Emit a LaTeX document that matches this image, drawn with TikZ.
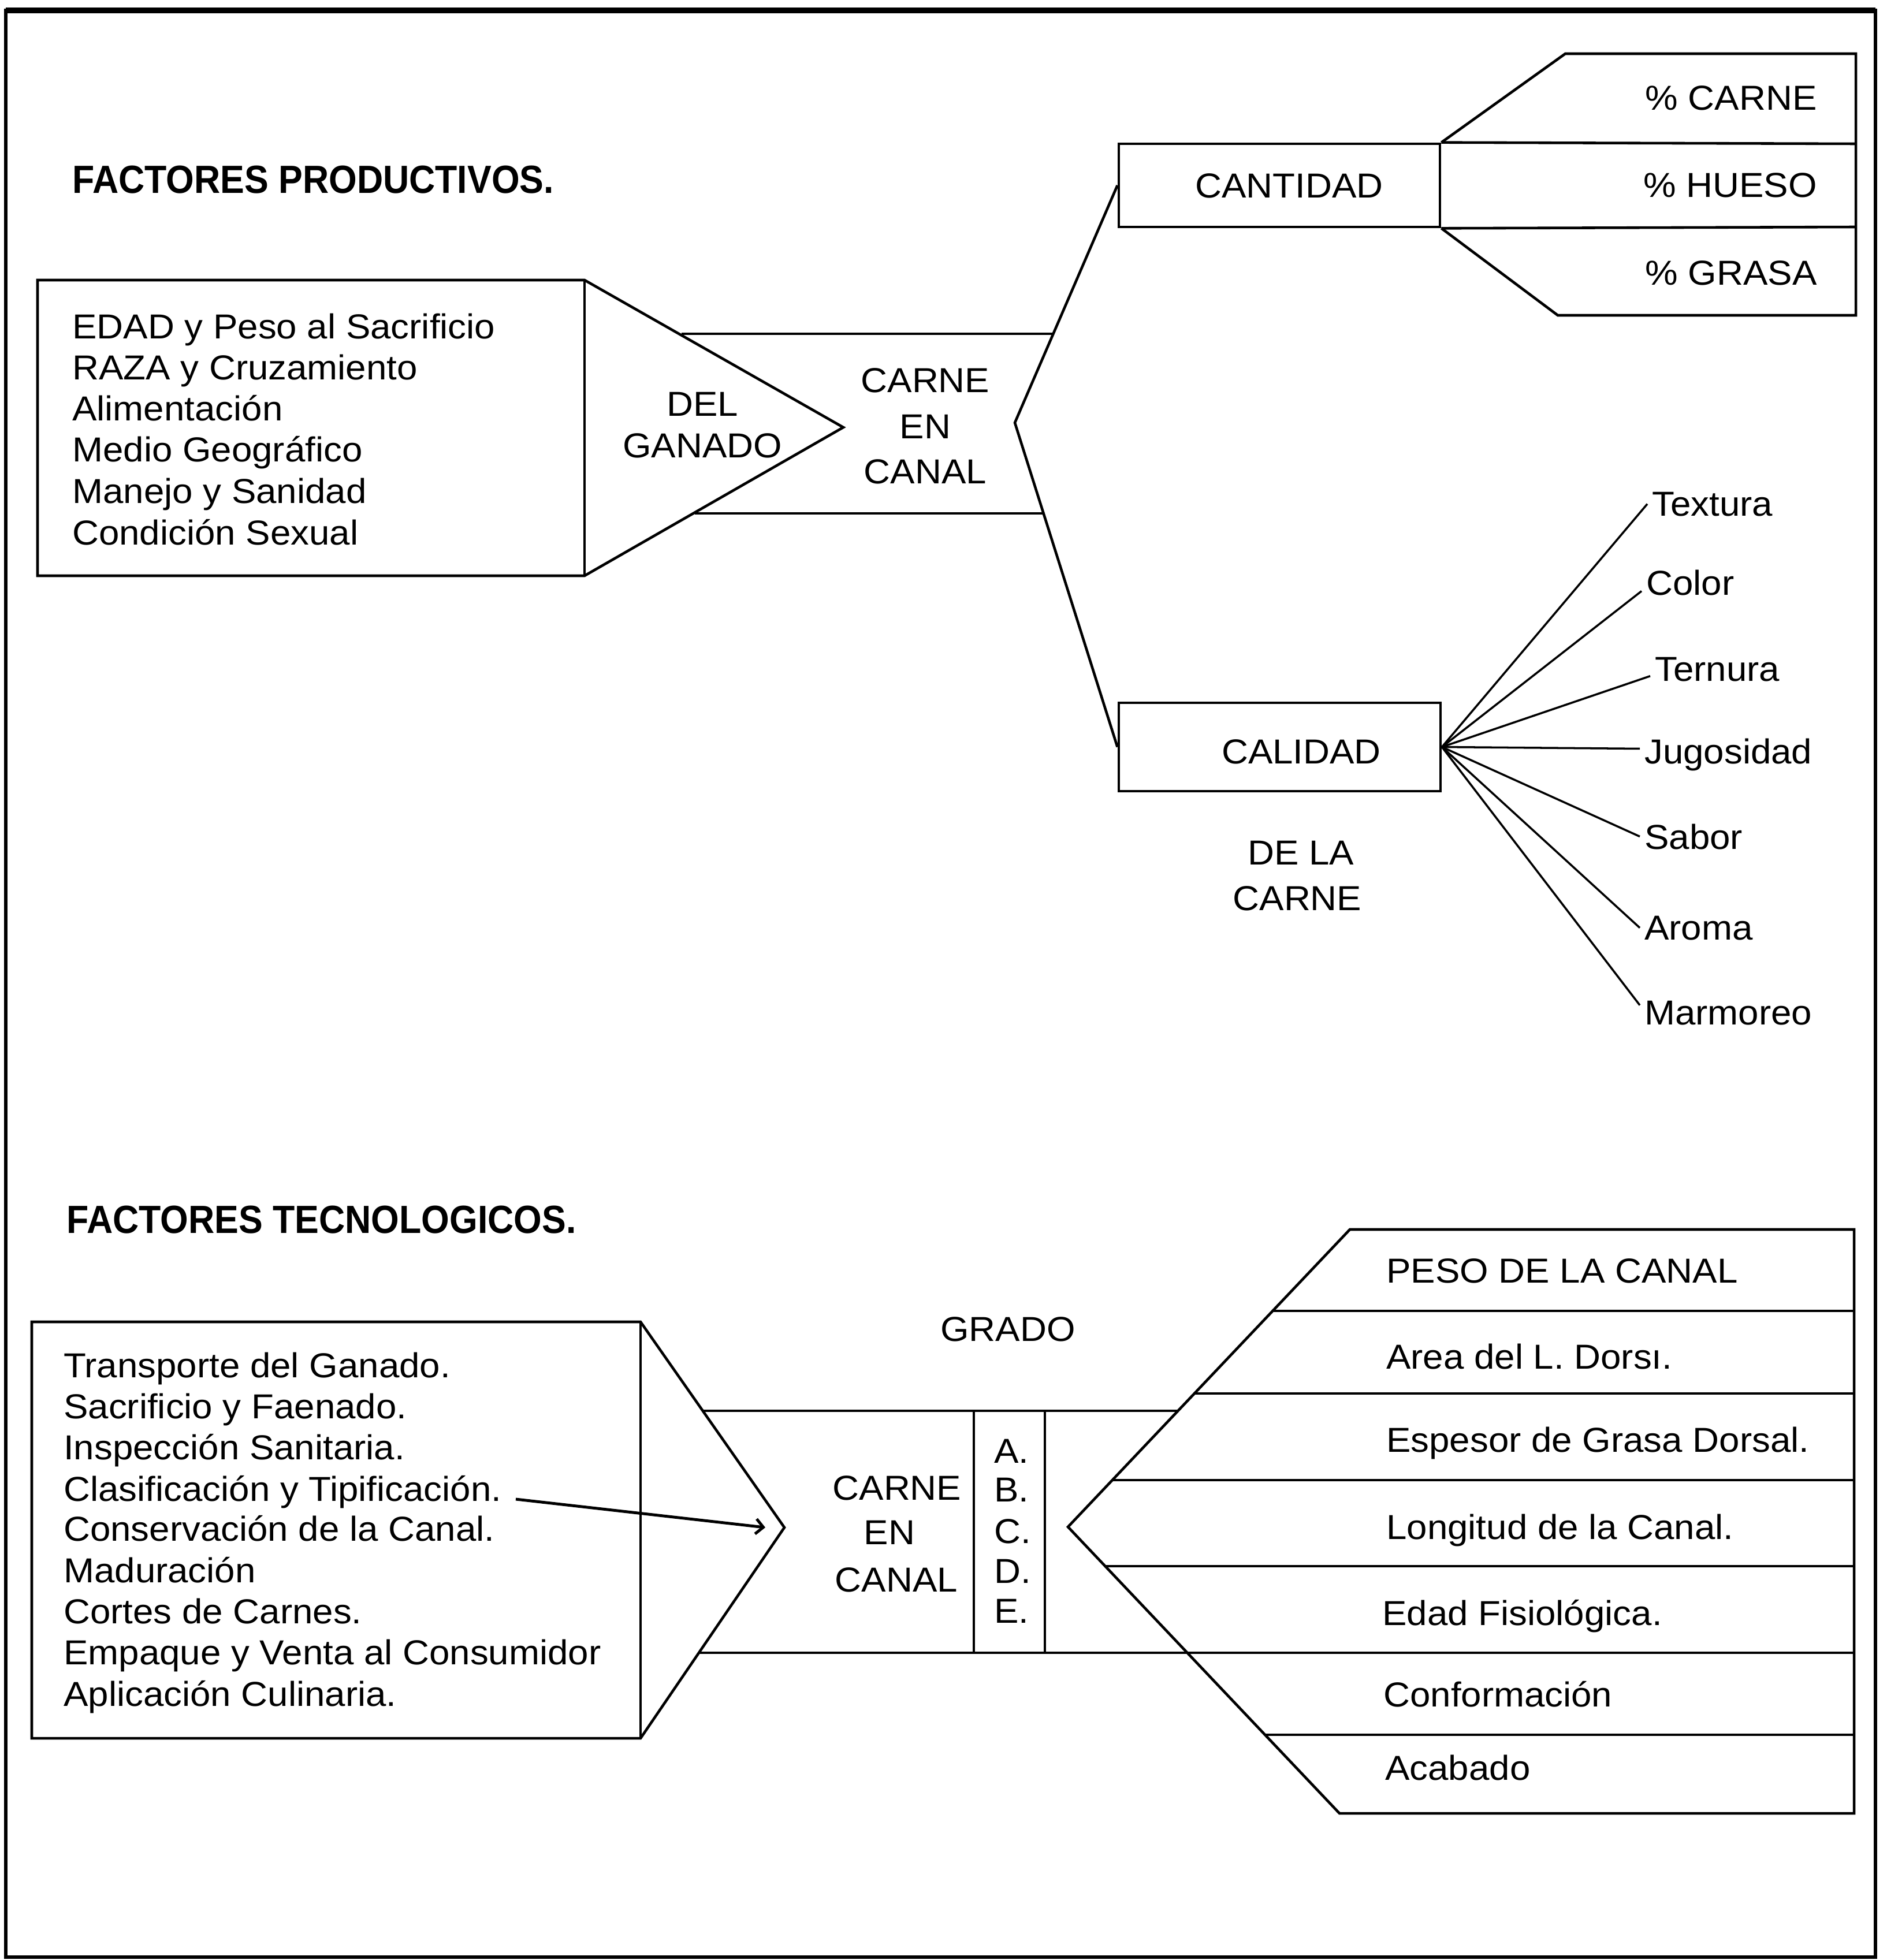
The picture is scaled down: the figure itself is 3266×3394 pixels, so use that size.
\documentclass[tikz,border=0pt]{standalone}
\usepackage{fontspec}
\setmainfont{Liberation Sans}[FakeStretch=1.06]
\newfontfamily\titlefont{Liberation Sans}[FakeStretch=0.92]
\usetikzlibrary{arrows.meta}
\begin{document}
\begin{tikzpicture}[x=0.01cm,y=-0.01cm,line width=1.3pt,line join=miter,
  txt/.style={inner sep=0pt,font=\fontsize{17.07pt}{20pt}\selectfont},
  ttl/.style={inner sep=0pt,font=\titlefont\bfseries\fontsize{19.35pt}{22pt}\selectfont},
  boxnode/.style={draw,line width=1.3pt,inner sep=0pt},
  arr/.style={-{Straight Barb[length=1.3mm,width=2.6mm]},line width=1.4pt}]
\useasboundingbox (0,0) rectangle (3266,3394);
% outer frame
\draw[line width=1.6pt] (10,18) rectangle (3247,3389);
\draw[line width=3pt] (10,18) -- (3247,18);

% ===== FACTORES PRODUCTIVOS =====
\node[ttl,anchor=base west] (t1) at (123,335) {FACTORES PRODUCTIVOS.};
\draw (65,485) -- (1012,485) -- (1460,740) -- (1012,997) -- (65,997) -- cycle;
\draw (1012,485) -- (1012,997);
\foreach \yy/\tt [count=\i] in {586/EDAD y Peso al Sacrificio,657/RAZA y Cruzamiento,
  728/Alimentación,799/Medio Geográfico,871/Manejo y Sanidad,943/Condición Sexual}
  \node[txt,anchor=base west] (p\i) at (123,\yy) {\tt};
\node[txt,anchor=base] (del) at (1216,720) {DEL};
\node[txt,anchor=base] (gan) at (1216,792) {GANADO};
\draw (1180,578) -- (1825,578);
\draw (1203,889) -- (1806,889);
\node[txt,anchor=base] (c1) at (1602,679) {CARNE};
\node[txt,anchor=base] (c2) at (1602,759) {EN};
\node[txt,anchor=base] (c3) at (1602,837) {CANAL};

% cantidad / calidad boxes
\node[boxnode,minimum width=5.56cm,minimum height=1.44cm] (cantbox) at (2215,321) {};
\node[boxnode,minimum width=5.57cm,minimum height=1.53cm] (calbox) at (2215.5,1293.5) {};
\coordinate (vtop) at (1757,732);
\draw (cantbox.west) -- (vtop) -- (calbox.west);
\node[txt,anchor=base] (cant) at (2232,343) {CANTIDAD};
\node[txt,anchor=base] (cal) at (2253,1322) {CALIDAD};
\node[txt,anchor=base] (dla) at (2252,1497) {DE LA};
\node[txt,anchor=base] (dlc) at (2246,1576) {CARNE};

% percentage table
\draw (cantbox.north east) -- (3213,249);
\draw (cantbox.south east) -- (3213,393);
\draw (cantbox.north east) -- (2710,93) -- (3213,93) -- (3213,546) -- (2697,546) -- (cantbox.south east);
\node[txt,anchor=base east] (pc) at (3148,191) {\% CARNE};
\node[txt,anchor=base east] (ph) at (3148,342) {\% HUESO};
\node[txt,anchor=base east] (pg) at (3148,494) {\% GRASA};

% quality fan
\foreach \nm/\xx/\yy/\dy/\tt in {tex/2858/893/0/Textura,col/2848/1030/-0.15/Color,ter/2863/1179/-0.12/Ternura,
  jug/2845/1322/0.1/Jugosidad,sab/2845/1470/0/Sabor,aro/2845/1627/0/Aroma,mar/2845/1774/0.13/Marmoreo}
{
  \node[txt,anchor=base west] (\nm) at (\xx,\yy) {\tt};
  \draw[line width=1pt] (calbox.east) -- ([xshift=-0.06cm,yshift=\dy cm]\nm.west);
}

% ===== FACTORES TECNOLOGICOS =====
\node[ttl,anchor=base west] (t2) at (113,2135) {FACTORES TECNOLOGICOS.};
\draw (55,2289) -- (1109,2289) -- (1358,2645) -- (1109,3010) -- (55,3010) -- cycle;
\draw (1109,2289) -- (1109,3010);
\foreach \yy/\tt [count=\i] in {2385/Transporte del Ganado.,2456/Sacrificio y Faenado.,
  2527/Inspección Sanitaria.,2599/Clasificación y Tipificación.,2668/Conservación de la Canal.,
  2740/Maduración,2811/Cortes de Carnes.,2882/Empaque y Venta al Consumidor,2954/Aplicación Culinaria.}
  \node[txt,anchor=base west] (q\i) at (108,\yy) {\tt};
\coordinate (arrs) at (893,2596);
\coordinate (arrt) at (1325,2645);
\draw[arr] (arrs) -- (arrt);

\node[txt,anchor=base] (grado) at (1745,2322) {GRADO};
\draw (1217,2443) -- (2039,2443);
\draw (1210,2862) -- (3210,2862);
\draw[line width=1pt] (1686,2443) -- (1686,2862);
\draw[line width=1pt] (1809,2443) -- (1809,2862);
\node[txt,anchor=base] (d1) at (1553,2597) {CARNE};
\node[txt,anchor=base] (d2) at (1540,2674) {EN};
\node[txt,anchor=base] (d3) at (1552,2756) {CANAL};
\foreach \yy/\tt [count=\i] in {2533/A.,2600/B.,2672/C.,2741/D.,2810/E.}
  \node[txt,anchor=base west] (g\i) at (1719,\yy) {\tt};

% grading table
\draw (3210,2129) -- (2337,2129) -- (1849,2644) -- (2319,3140) -- (3210,3140) -- cycle;
\draw (2203,2270) -- (3210,2270);
\draw (2068,2413) -- (3210,2413);
\draw (1926,2563) -- (3210,2563);
\draw (1913,2712) -- (3210,2712);
\draw (2190,3004) -- (3210,3004);
\foreach \nm/\xx/\yy/\tt in {r1/2398/2221/PESO DE LA CANAL,r2/2398/2370/Area del L. Dorsı.,
  r3/2398/2514/Espesor de Grasa Dorsal.,r4/2398/2665/Longitud de la Canal.,
  r5/2391/2814/Edad Fisiológica.,r6/2393/2955/Conformación,r7/2396/3082/Acabado}
  \node[txt,anchor=base west] (\nm) at (\xx,\yy) {\tt};
\end{tikzpicture}
\end{document}
